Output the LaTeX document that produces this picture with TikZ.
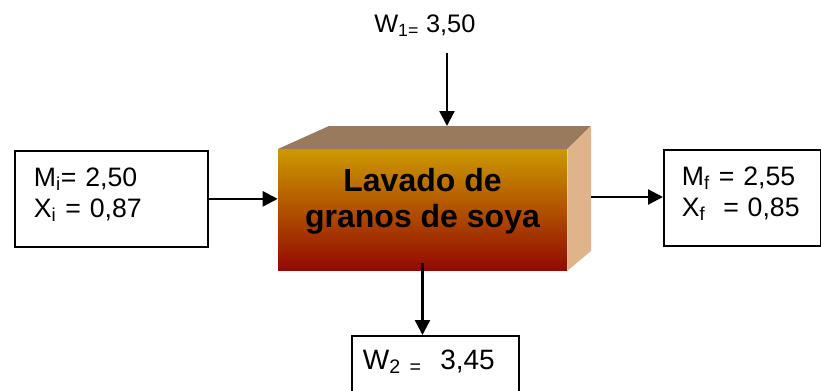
\documentclass[tikz,border=0pt]{standalone}
\usepackage{fontspec}
\setmainfont{Liberation Sans}
\usepackage{tikz}
\usetikzlibrary{arrows.meta}
\definecolor{topface}{RGB}{153,122,92}
\definecolor{sideface}{RGB}{224,180,138}
\definecolor{goldtop}{RGB}{204,153,0}
\definecolor{redbottom}{RGB}{148,8,0}
\newcommand{\lowrule}[1]{\rule[-#1]{0pt}{0pt}}

\begin{document}
\begin{tikzpicture}[x=0.75pt,y=0.75pt,yscale=-1,xscale=1,
  databox/.style={draw,line width=1.3pt,rectangle,anchor=north west,align=left,font=\fontsize{20pt}{23pt}\selectfont},
  washface/.style={rectangle,inner sep=0pt,minimum width=216.75pt,minimum height=91pt,top color=goldtop,bottom color=redbottom,align=center,font=\bfseries\fontsize{24pt}{26.5pt}\selectfont},
  flow/.style={line width=1.7pt,-{Triangle[length=11.25pt,width=11.25pt]}}]
\useasboundingbox (0,0) rectangle (821,390);

%Shape: front face of the washer
\node[washface] (wash) at (422.5,210) {Lavado de\\granos de soya\lowrule{18pt}};
\coordinate (backNW) at (329,126);
\coordinate (backNE) at (591,126);
\coordinate (backSE) at (591,251);
%Shape: top and side faces
\fill[topface] (wash.north west) -- (backNW) -- (backNE) -- (wash.north east) -- cycle;
\fill[sideface] (wash.north east) -- (backNE) -- (backSE) -- (wash.south east) -- cycle;

% Text Node
\node[anchor=base west,inner sep=0pt,font=\fontsize{19pt}{22pt}\selectfont] (feed) at (374,32.7) {W\textsubscript{1=} 3,50};

%Shape: input, output and waste boxes
\node[databox,minimum width=144.75pt,minimum height=72pt,inner xsep=14.25pt,text width=116.25pt] (win) at (14,150) {M\textsubscript{i}= 2,50\\X\textsubscript{i} = 0,87\lowrule{9.7pt}};
\node[databox,minimum width=117.75pt,minimum height=72pt,inner xsep=13.5pt,text width=90.75pt] (wfin) at (663,149) {M\textsubscript{f} = 2,55\\X\textsubscript{f}\ \ = 0,85\lowrule{9.7pt}};
\node[databox,minimum width=125.25pt,inner xsep=8.25pt,inner ysep=10.5pt,text width=108.75pt,font=\fontsize{21pt}{24pt}\selectfont] (wout) at (351,335) {W\textsubscript{2\ =\ }\ 3,45\lowrule{20pt}};

%Connectors
\coordinate (feedtop) at (447,53);
\coordinate (feedin) at (447,126);
\coordinate (sideout) at (591,197);
\coordinate (washout) at (422.5,263);
\draw[flow] (feedtop) -- (feedin);
\draw[flow] (win.east) -- (win.east -| wash.west);
\draw[flow] (sideout) -- (sideout -| wfin.west);
\draw[flow] (washout) -- (washout |- wout.north);

\end{tikzpicture}
\end{document}
